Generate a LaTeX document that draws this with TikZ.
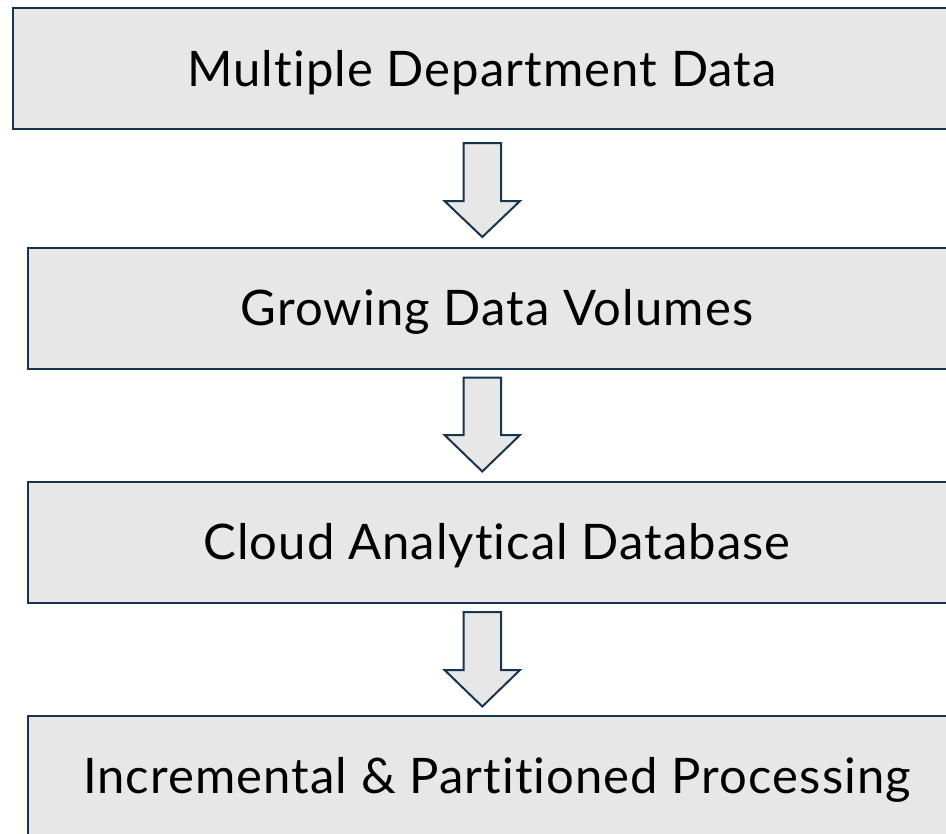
\documentclass[tikz,border=0pt]{standalone}
\usepackage{fontspec}
\setmainfont[Ligatures=NoCommon, LetterSpace=2.2]{Lato}
\definecolor{boxfill}{HTML}{E7E7E7}
\definecolor{boxline}{HTML}{17344F}
\tikzset{
  stagebox/.style={draw=boxline, fill=boxfill, line width=2bp, rectangle,
    minimum width=938bp, minimum height=121bp, inner sep=0pt,
    text height=35bp, text depth=0bp, font=\fontsize{49bp}{56bp}\selectfont},
  downarrow/.style={draw=boxline, fill=boxfill, line width=2bp, line join=miter}
}
\begin{document}
\begin{tikzpicture}[x=1bp,y=-1bp]
\useasboundingbox (0,0) rectangle (946,834);
\node[stagebox] (b1) at (482,68.5) {Multiple Department Data};
\node[stagebox] (b2) at (497,308) {Growing Data Volumes};
\node[stagebox] (b3) at (497,542) {Cloud Analytical Database};
\node[stagebox] (b4) at (497,776) {Incremental \& Partitioned Processing};
\foreach \t/\h/\p in {143/201/237, 377.5/435/471.5, 612/670/706.5}{
  \draw[downarrow] (463.5,\t) -- (501,\t) -- (501,\h) -- (520,\h) -- (482.3,\p)
    -- (444.5,\h) -- (463.5,\h) -- cycle;
}
\end{tikzpicture}
\end{document}
